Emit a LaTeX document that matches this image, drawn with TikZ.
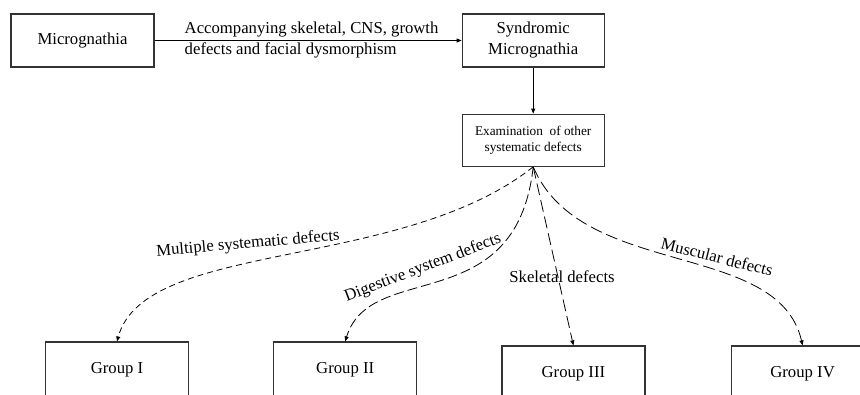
\documentclass[tikz,border=0pt]{standalone}
\usepackage{fontspec}
\setmainfont{Liberation Serif}
\usetikzlibrary{positioning,arrows.meta}
\tikzstyle{element} = [rectangle, draw=black!80, line width=1.2pt, minimum width=143pt, minimum height=53pt, align=center, font=\fontsize{16.7}{21}\selectfont]
\tikzstyle{arrow} = [line width=0.8pt, -{Triangle[length=5pt,width=4pt]}]
\tikzstyle{pathtext} = [font=\fontsize{16.7}{21}\selectfont, inner sep=0pt]

\begin{document}
\begin{tikzpicture}[x=1pt, y=1pt]
        \useasboundingbox (0,0) rectangle (860,-394);
        % Top row ----------------------------------------------------------------------------------
        \node[element](micro) at (82.5,-40.5){Micrognathia};
        \node[element, minimum width=142pt, right=307pt of micro](syndromic){Syndromic\\Micrognathia};
        \node[element, minimum width=142pt, minimum height=52pt, below=46pt of syndromic, font=\fontsize{13.3}{15.5}\selectfont](exam){Examination~ of other\\systematic defects};
        % Groups -----------------------------------------------------------------------------------
        \node[element, minimum height=56pt](group_one) at (117,-370){Group I};
        \node[element, minimum height=56pt, right=84pt of group_one](group_two){Group II};
        \node[element, minimum height=56pt, right=84pt of group_two, yshift=-4pt](group_three){Group III};
        \node[element, minimum height=56pt, right=85pt of group_three](group_four){Group IV};
        % Labels -----------------------------------------------------------------------------------
        \node[pathtext, rotate=5](lbl_multiple) at (248,-244){Multiple systematic defects};
        \node[pathtext, rotate=21](lbl_digestive) at (423,-268){Digestive system defects};
        \node[pathtext](lbl_skeletal) at (562,-277){Skeletal defects};
        \node[pathtext, rotate=-14](lbl_muscular) at (717,-257){Muscular defects};
        % Arrows -----------------------------------------------------------------------------------
        \draw[arrow] (micro.east) -- node[pathtext, align=left, xshift=3.5pt]{Accompanying skeletal, CNS, growth\\defects and facial dysmorphism} (syndromic.west);
        \draw[arrow] (syndromic.south) -- (exam.north);
        \draw[arrow, dash pattern=on 6pt off 4pt] (exam.south) to[out=218.5, in=74.6, out distance=168.7pt, in distance=105.8pt] (group_one.north);
        \draw[arrow, dash pattern=on 10pt off 4pt] (exam.south) to[out=263.7, in=73, out distance=154pt, in distance=86pt] (group_two.north);
        \draw[arrow, dash pattern=on 12pt off 5pt] (exam.south) -- (group_three.north);
        \draw[arrow, dash pattern=on 12pt off 5pt] (exam.south) to[out=293, in=103, out distance=123pt, in distance=109pt] (group_four.north);
    \end{tikzpicture}
\end{document}
